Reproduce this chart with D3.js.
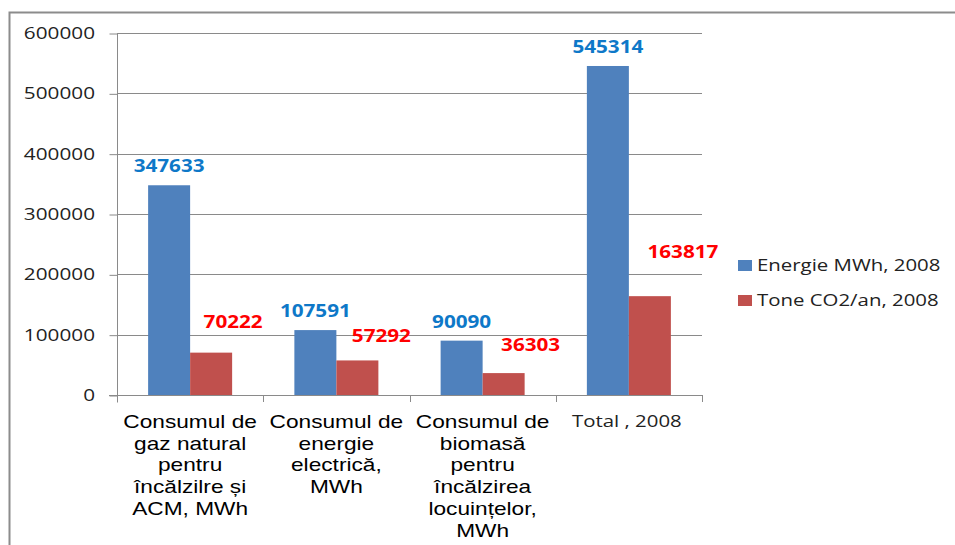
<!DOCTYPE html>
<html>
<head>
<meta charset="utf-8">
<script src="https://cdn.jsdelivr.net/npm/d3@7"></script>
<style>
  body { margin: 0; background: #fff; }
  svg { display: block; }
</style>
</head>
<body>
<svg id="chart" width="955" height="545"></svg>
<script>
// chart values
var categories = ['gaz', 'electric', 'biomasa', 'total'];
var categoryLines = [
    ['Consumul de', 'gaz natural', 'pentru', 'încălzilre și', 'ACM, MWh'],
    ['Consumul de', 'energie', 'electrică,', 'MWh'],
    ['Consumul de', 'biomasă', 'pentru', 'încălzirea', 'locuințelor,', 'MWh'],
    ['Total , 2008']
];
var seriesNames = ['Energie MWh, 2008', 'Tone CO2/an, 2008'];
var energie = [347633, 107591, 90090, 545314];
var tone = [70222, 57292, 36303, 163817];
var yTicks = [0, 100000, 200000, 300000, 400000, 500000, 600000];

// the red labels were dragged by hand in the original, so each gets its own nudge
var redLabelNudge = [[22, -25], [24, -18], [27, -22], [33, -38]];

var barColors = ['#4F81BD', '#C0504D'];
var labelColors = ['#0E78C8', '#FF0000'];

var svg = d3.select('#chart');
var plot = { left: 117, right: 702, top: 33, bottom: 395 };

// outer frame (right and bottom edges fall outside the picture)
svg.append('rect')
    .attr('x', 9.5).attr('y', 12.5)
    .attr('width', 1000).attr('height', 600)
    .attr('fill', 'none')
    .attr('stroke', '#8c8c8c')
    .attr('stroke-width', 2);

var y = d3.scaleLinear().domain([0, 600000]).range([plot.bottom, plot.top]);

var x0 = d3.scaleBand()
    .domain(categories)
    .range([plot.left, plot.right])
    .paddingInner(0.4256)
    .paddingOuter(0.2128);
var x1 = d3.scaleBand()
    .domain([0, 1])
    .range([0, x0.bandwidth()]);
var step = x0.step();

function stretchText(g, x, yy, str, sx, anchor) {
    return g.append('text')
        .attr('transform', 'translate(' + x + ',' + yy + ') scale(' + sx + ',1)')
        .attr('text-anchor', anchor)
        .text(str);
}

// gridlines
svg.append('g')
    .selectAll('line')
    .data(yTicks.slice(1))
    .join('line')
    .attr('x1', plot.left).attr('x2', plot.right)
    .attr('y1', function(d){ return Math.round(y(d)) + 0.5; })
    .attr('y2', function(d){ return Math.round(y(d)) + 0.5; })
    .attr('stroke', '#8a8a8a')
    .attr('stroke-width', 1);

// y axis
var yAxis_g = svg.append('g')
    .attr('transform', 'translate(' + (plot.left + 0.5) + ',0.5)')
    .call(d3.axisLeft(y).tickValues(yTicks).tickSize(8).tickSizeOuter(0).tickFormat(function(d){ return ''; }));
yAxis_g.select('.domain').attr('stroke', '#8a8a8a').attr('d', 'M0,' + plot.top + 'V' + (plot.bottom + 7));
yAxis_g.selectAll('.tick line').attr('stroke', '#8a8a8a');

var yLab = svg.append('g')
    .style('font-family', '"Open Sans", sans-serif')
    .style('font-size', '17px')
    .attr('fill', '#222');
yTicks.forEach(function(t) {
    stretchText(yLab, 95, y(t) + 6, String(t), 1.22, 'end');
});

// x axis baseline and boundary ticks
svg.append('line')
    .attr('x1', plot.left - 8).attr('x2', plot.right)
    .attr('y1', plot.bottom + 0.5).attr('y2', plot.bottom + 0.5)
    .attr('stroke', '#8a8a8a');
svg.append('g')
    .selectAll('line')
    .data(d3.range(categories.length + 1))
    .join('line')
    .attr('x1', function(i){ return Math.round(plot.left + i * step) + 0.5; })
    .attr('x2', function(i){ return Math.round(plot.left + i * step) + 0.5; })
    .attr('y1', plot.bottom).attr('y2', plot.bottom + 7)
    .attr('stroke', '#8a8a8a');

// bars
var rows = categories.map(function(c, i) {
    return { cat: c, i: i, vals: [energie[i], tone[i]] };
});
var groups = svg.append('g')
    .selectAll('g')
    .data(rows)
    .join('g')
    .attr('transform', function(d){ return 'translate(' + x0(d.cat) + ',0)'; });
groups.selectAll('rect')
    .data(function(d){ return d.vals.map(function(v, s){ return { s: s, v: v }; }); })
    .join('rect')
    .attr('x', function(d){ return x1(d.s); })
    .attr('y', function(d){ return y(d.v); })
    .attr('width', x1.bandwidth())
    .attr('height', function(d){ return y(0) - y(d.v); })
    .attr('fill', function(d){ return barColors[d.s]; });

// data labels
var labG = svg.append('g')
    .style('font-family', '"Open Sans", sans-serif')
    .style('font-size', '18px')
    .style('font-weight', 'bold');
rows.forEach(function(r) {
    var bx = x0(r.cat);
    stretchText(labG, bx + x1(0) + x1.bandwidth() / 2, y(r.vals[0]) - 13, String(r.vals[0]), 1.15, 'middle')
        .attr('fill', labelColors[0]);
    var n = redLabelNudge[r.i];
    stretchText(labG, bx + x1(1) + x1.bandwidth() / 2 + n[0], y(r.vals[1]) + n[1], String(r.vals[1]), 1.15, 'middle')
        .attr('fill', labelColors[1]);
});

// category labels
var catG = svg.append('g').attr('fill', '#000');
categoryLines.forEach(function(lines, i) {
    var cx = x0(categories[i]) + x0.bandwidth() / 2;
    lines.forEach(function(line, k) {
        var t;
        if (i === 3) {
            t = stretchText(catG, cx - 2, 427, line, 1.2, 'middle')
                .style('font-family', '"Open Sans", sans-serif')
                .style('font-size', '17px')
                .attr('fill', '#222');
        } else {
            t = stretchText(catG, cx, 428 + k * 21.7, line, 1.26, 'middle')
                .style('font-family', '"Liberation Sans", Arial, sans-serif')
                .style('font-size', '18px');
        }
    });
});

// legend
var legend = svg.append('g')
    .style('font-family', '"Open Sans", sans-serif')
    .style('font-size', '17px');
seriesNames.forEach(function(name, i) {
    var ly = 271 + i * 35;
    legend.append('rect')
        .attr('x', 738).attr('y', ly - 11)
        .attr('width', 14).attr('height', 11)
        .attr('fill', barColors[i]);
    stretchText(legend, 757, ly, name, 1.2, 'start').attr('fill', '#222');
});
</script>
</body>
</html>
